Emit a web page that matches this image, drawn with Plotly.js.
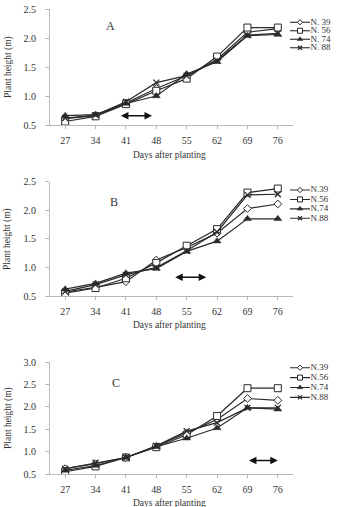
<!DOCTYPE html>
<html>
<head>
<meta charset="utf-8">
<script src="https://cdn.plot.ly/plotly-3.0.1.min.js"></script>
<style>
  html, body { margin: 0; padding: 0; background: #fff; }
  #chart { width: 340px; height: 507px; }
</style>
</head>
<body>
<div id="chart"></div>
<script>
// ---- Data ----
const days = [27, 34, 41, 48, 55, 62, 69, 76];
const seriesNamesA = ['N. 39', 'N. 56', 'N. 74', 'N. 88'];
const seriesNamesBC = ['N.39', 'N.56', 'N.74', 'N.88'];

// Panel A plant height (m)
const a39 = [0.61, 0.66, 0.88, 1.13, 1.35, 1.63, 2.10, 2.16];
const a56 = [0.56, 0.65, 0.86, 1.09, 1.30, 1.68, 2.18, 2.18];
const a74 = [0.66, 0.68, 0.87, 1.00, 1.38, 1.59, 2.04, 2.06];
const a88 = [0.62, 0.67, 0.90, 1.23, 1.35, 1.61, 2.05, 2.08];

// Panel B plant height (m)
const b39 = [0.57, 0.65, 0.75, 1.13, 1.35, 1.60, 2.03, 2.11];
const b56 = [0.55, 0.64, 0.81, 1.08, 1.38, 1.67, 2.31, 2.38];
const b74 = [0.62, 0.72, 0.90, 0.98, 1.28, 1.46, 1.85, 1.85];
const b88 = [0.58, 0.70, 0.87, 1.00, 1.29, 1.62, 2.27, 2.28];

// Panel C plant height (m)
const c39 = [0.62, 0.73, 0.87, 1.12, 1.42, 1.72, 2.19, 2.15];
const c56 = [0.55, 0.67, 0.87, 1.10, 1.38, 1.80, 2.42, 2.42];
const c74 = [0.58, 0.69, 0.87, 1.11, 1.30, 1.53, 1.98, 1.95];
const c88 = [0.62, 0.75, 0.87, 1.13, 1.46, 1.65, 1.98, 1.98];

// Double-headed arrows: [start day, end day, height]
const arrowA = [39.5, 47, 0.66];
const arrowB = [52, 59.5, 0.83];
const arrowC = [69, 76, 0.80];

// ---- Styles ----
const W = 340, H = 507;
const lineColor = '#2a2a2a';
const serif = 'Liberation Serif, Times New Roman, serif';
const markerStyles = [
  {symbol: 'diamond', size: 6, color: 'white', line: {color: lineColor, width: 1}},
  {symbol: 'square', size: 7, color: 'white', line: {color: lineColor, width: 1}},
  {symbol: 'triangle-up', size: 7, color: lineColor, line: {color: lineColor, width: 0.5}},
  {symbol: 'x-thin', size: 6, color: lineColor, line: {color: lineColor, width: 1.3}}
];
const legendMarker = m => Object.assign({}, m, {size: Math.max(4, m.size - 2)});

const panels = [
  {series: [a39, a56, a74, a88], names: seriesNamesA, xa: 'x', ya: 'y', lx: 'x4', ly: 'y4'},
  {series: [b39, b56, b74, b88], names: seriesNamesBC, xa: 'x2', ya: 'y2', lx: 'x5', ly: 'y5'},
  {series: [c39, c56, c74, c88], names: seriesNamesBC, xa: 'x3', ya: 'y3', lx: 'x6', ly: 'y6'}
];

const traces = [];
panels.forEach(p => {
  p.series.forEach((vals, i) => {
    traces.push({
      type: 'scatter', mode: 'lines+markers', name: p.names[i],
      x: days, y: vals, xaxis: p.xa, yaxis: p.ya,
      line: {color: lineColor, width: 1.2},
      marker: markerStyles[i], showlegend: false, hoverinfo: 'x+y+name'
    });
    // legend sample: line + marker + label drawn on a small helper axis
    traces.push({
      type: 'scatter', mode: 'lines', x: [0.04, 0.44], y: [i, i],
      xaxis: p.lx, yaxis: p.ly, line: {color: lineColor, width: 1.1},
      showlegend: false, hoverinfo: 'skip'
    });
    traces.push({
      type: 'scatter', mode: 'markers', x: [0.24], y: [i],
      xaxis: p.lx, yaxis: p.ly, marker: legendMarker(markerStyles[i]),
      showlegend: false, hoverinfo: 'skip'
    });
    traces.push({
      type: 'scatter', mode: 'text', x: [0.45], y: [i], text: [p.names[i]],
      textposition: 'middle right', textfont: {family: serif, size: 9, color: '#333'},
      xaxis: p.lx, yaxis: p.ly, showlegend: false, hoverinfo: 'skip'
    });
  });
});

const px = v => v / W;
const py = v => 1 - v / H;

const xBase = {
  range: [23.5, 79.5], tickvals: days, ticktext: days.map(String),
  showgrid: false, zeroline: false, showline: true, linecolor: '#b8b8b8', linewidth: 1,
  ticks: 'outside', ticklen: 3, tickcolor: '#b8b8b8',
  tickfont: {family: serif, size: 10, color: '#333'}, ticklabelstandoff: 3,
  domain: [px(50), px(293)], fixedrange: true
};
const yBase = {
  dtick: 0.5, tickformat: '.1f', showgrid: false, zeroline: false,
  showline: true, linecolor: '#b8b8b8', linewidth: 1,
  ticks: 'outside', ticklen: 4, tickcolor: '#b8b8b8',
  tickfont: {family: serif, size: 10, color: '#333'}, ticklabelstandoff: 7, fixedrange: true
};
const legX = {domain: [px(288), px(338)], range: [0, 1], visible: false, fixedrange: true};
const legY = (top, bottom) => ({domain: [py(bottom), py(top)], range: [3.5, -0.5], visible: false, fixedrange: true});

const layout = {
  width: W, height: H,
  margin: {l: 0, r: 0, t: 0, b: 0},
  paper_bgcolor: 'white', plot_bgcolor: 'white',
  showlegend: false,
  font: {family: serif, color: '#333'},
  xaxis:  Object.assign({}, xBase, {anchor: 'y'}),
  xaxis2: Object.assign({}, xBase, {anchor: 'y2'}),
  xaxis3: Object.assign({}, xBase, {anchor: 'y3'}),
  yaxis:  Object.assign({}, yBase, {anchor: 'x', range: [0.5, 2.5], domain: [py(125), py(9)]}),
  yaxis2: Object.assign({}, yBase, {anchor: 'x2', range: [0.5, 2.5], domain: [py(296), py(181.7)]}),
  yaxis3: Object.assign({}, yBase, {anchor: 'x3', range: [0.5, 3.0], domain: [py(474), py(362.3)]}),
  xaxis4: Object.assign({}, legX, {anchor: 'y4'}),
  xaxis5: Object.assign({}, legX, {anchor: 'y5'}),
  xaxis6: Object.assign({}, legX, {anchor: 'y6'}),
  yaxis4: Object.assign({}, legY(18, 52), {anchor: 'x4'}),
  yaxis5: Object.assign({}, legY(185.3, 223), {anchor: 'x5'}),
  yaxis6: Object.assign({}, legY(362.75, 402.3), {anchor: 'x6'}),
  annotations: []
};

const ann = layout.annotations;
// axis titles
[[155, 67], [325, 239], [503, 418]].forEach(([xt, yc]) => {
  ann.push({text: 'Days after planting', xref: 'paper', yref: 'paper', x: px(169), y: py(xt),
    showarrow: false, font: {family: serif, size: 9.5, color: '#333'}, xanchor: 'center', yanchor: 'middle'});
  ann.push({text: 'Plant height (m)', xref: 'paper', yref: 'paper', x: px(8), y: py(yc),
    textangle: -90, showarrow: false, font: {family: serif, size: 9.5, color: '#333'}, xanchor: 'center', yanchor: 'middle'});
});
// panel letters
[['A', 110, 26], ['B', 114, 202], ['C', 116, 383]].forEach(([t, x, y]) => {
  ann.push({text: t, xref: 'paper', yref: 'paper', x: px(x), y: py(y), showarrow: false,
    font: {family: serif, size: 12, color: '#333'}, xanchor: 'center', yanchor: 'middle'});
});
// double-headed arrows
[[arrowA, 'x', 'y'], [arrowB, 'x2', 'y2'], [arrowC, 'x3', 'y3']].forEach(([a, xr, yr]) => {
  ann.push({text: '', xref: xr, yref: yr, axref: xr, ayref: yr,
    x: a[1], y: a[2], ax: a[0], ay: a[2], showarrow: true,
    arrowhead: 2, startarrowhead: 2, arrowside: 'end+start', arrowsize: 1, startarrowsize: 1,
    arrowwidth: 1.5, arrowcolor: '#111'});
});

Plotly.newPlot('chart', traces, layout, {staticPlot: true, displayModeBar: false});
</script>
</body>
</html>
